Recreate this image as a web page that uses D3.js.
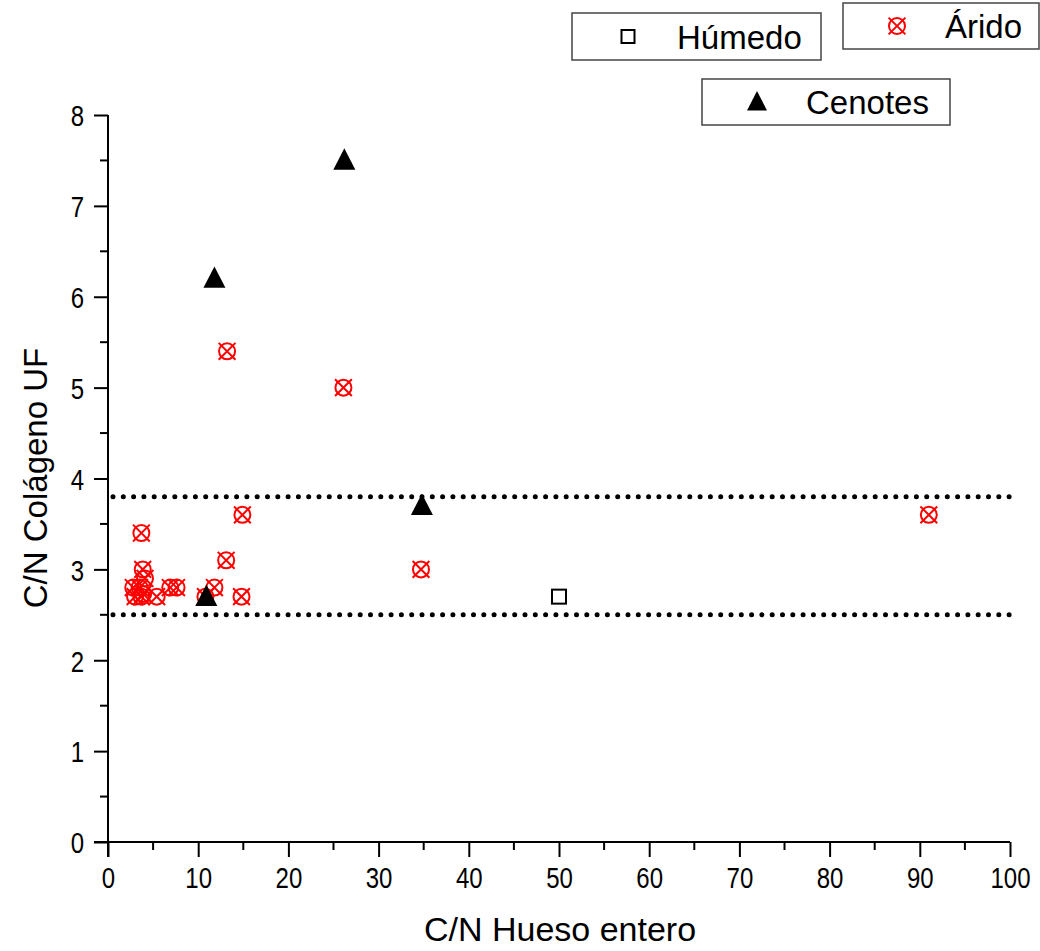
<!DOCTYPE html>
<html>
<head>
<meta charset="utf-8">
<script src="https://cdn.jsdelivr.net/npm/d3@7"></script>
<style>
  body { margin: 0; background: #fff; }
  text { font-family: "Liberation Sans", Arial, sans-serif; fill: #000; }
</style>
</head>
<body>
<script>
// datos
var humedoX = [50];
var humedoY = [2.7];

var aridoX = [13.2, 26.1, 34.7, 91.0, 14.9, 13.1, 14.8, 3.7, 3.85, 4.1, 2.8, 3.5, 3.9, 3.0, 3.7, 5.4, 6.9, 7.6, 11.8, 10.8];
var aridoY = [5.4, 5.0, 3.0, 3.6, 3.6, 3.1, 2.7, 3.4, 3.0, 2.9, 2.8, 2.8, 2.73, 2.7, 2.7, 2.7, 2.8, 2.8, 2.8, 2.7];

var cenotesX = [11.8, 26.2, 34.8, 10.9];
var cenotesY = [6.2, 7.5, 3.7, 2.7];

var limites = [3.8, 2.5];

var xTicks = [0, 10, 20, 30, 40, 50, 60, 70, 80, 90, 100];
var yTicks = [0, 1, 2, 3, 4, 5, 6, 7, 8];

var width = 1040, height = 951;
var estirar = 1.25; // las etiquetas de los ejes se ven estiradas en vertical

var svg = d3.select("body").append("svg")
    .attr("width", width)
    .attr("height", height);

// escalas
var x = d3.scaleLinear().domain([0, 100]).range([108, 1010]);
var y = d3.scaleLinear().domain([0, 8]).range([842, 115]);

// líneas punteadas
svg.selectAll("line.lim").data(limites).enter().append("line")
    .attr("class", "lim")
    .attr("x1", x(0) + 5).attr("x2", x(100))
    .attr("y1", d => y(d)).attr("y2", d => y(d))
    .attr("stroke", "#000")
    .attr("stroke-width", 5)
    .attr("stroke-linecap", "round")
    .attr("stroke-dasharray", "0,10.3");

// ejes
var xAxis = d3.axisBottom(x).tickValues(xTicks).tickSize(15);
var yAxis = d3.axisLeft(y).tickValues(yTicks).tickSize(14).tickPadding(10);

var gx = svg.append("g").attr("transform", "translate(0," + y(0) + ")").call(xAxis);
var gy = svg.append("g").attr("transform", "translate(" + x(0) + ",0)").call(yAxis);

[gx, gy].forEach(g => {
  g.select(".domain").remove();
  g.selectAll(".tick line").attr("stroke-width", 2);
  g.selectAll(".tick text")
      .attr("font-size", 24)
      .attr("font-family", "Liberation Sans, Arial, sans-serif");
});
gx.selectAll(".tick text")
    .attr("y", 46 / estirar).attr("dy", null)
    .attr("transform", "scale(1," + estirar + ")");
gy.selectAll(".tick text")
    .attr("dy", "0.36em")
    .attr("transform", "scale(1," + estirar + ")");

svg.append("line").attr("x1", x(0) - 14).attr("x2", x(100)).attr("y1", y(0)).attr("y2", y(0))
    .attr("stroke", "#000").attr("stroke-width", 2);
svg.append("line").attr("x1", x(0)).attr("x2", x(0)).attr("y1", y(0) + 15).attr("y2", y(8))
    .attr("stroke", "#000").attr("stroke-width", 2);

// marcas menores
var xMinor = d3.range(5, 100, 10);
var yMinor = d3.range(0.5, 8, 1);
svg.selectAll("line.xm").data(xMinor).enter().append("line")
    .attr("x1", d => x(d)).attr("x2", d => x(d))
    .attr("y1", y(0)).attr("y2", y(0) + 8)
    .attr("stroke", "#000").attr("stroke-width", 2);
svg.selectAll("line.ym").data(yMinor).enter().append("line")
    .attr("x1", x(0) - 8).attr("x2", x(0))
    .attr("y1", d => y(d)).attr("y2", d => y(d))
    .attr("stroke", "#000").attr("stroke-width", 2);

// títulos de ejes
svg.append("text")
    .attr("x", 560).attr("y", 941)
    .attr("text-anchor", "middle")
    .attr("font-size", 34)
    .text("C/N Hueso entero");
svg.append("text")
    .attr("transform", "translate(47,478) rotate(-90)")
    .attr("text-anchor", "middle")
    .attr("font-size", 33)
    .text("C/N Colágeno UF");

// símbolos
function arido(g, r) {
  g.append("circle").attr("r", r).attr("fill", "none").attr("stroke", "#f00").attr("stroke-width", 2);
  var k = r * 1.05;
  g.append("path").attr("d", "M" + (-k) + "," + (-k) + "L" + k + "," + k + "M" + k + "," + (-k) + "L" + (-k) + "," + k)
      .attr("stroke", "#f00").attr("stroke-width", 2);
}
function triangulo(g, s) {
  g.append("path")
      .attr("d", "M0," + (-s * 0.55) + "L" + (s / 2) + "," + (s * 0.42) + "L" + (-s / 2) + "," + (s * 0.42) + "Z")
      .attr("fill", "#000");
}
function cuadrado(g, s) {
  g.append("rect").attr("x", -s / 2).attr("y", -s / 2).attr("width", s).attr("height", s)
      .attr("fill", "#fff").attr("stroke", "#000").attr("stroke-width", 2);
}

var aridoData = aridoX.map((v, i) => ({x: v, y: aridoY[i]}));
svg.selectAll("g.arido").data(aridoData).enter().append("g")
    .attr("class", "arido")
    .attr("transform", d => "translate(" + x(d.x) + "," + y(d.y) + ")")
    .each(function() { arido(d3.select(this), 8); });

var humedoData = humedoX.map((v, i) => ({x: v, y: humedoY[i]}));
svg.selectAll("g.humedo").data(humedoData).enter().append("g")
    .attr("transform", d => "translate(" + x(d.x) + "," + y(d.y) + ")")
    .each(function() { cuadrado(d3.select(this), 14); });

var cenotesData = cenotesX.map((v, i) => ({x: v, y: cenotesY[i]}));
svg.selectAll("g.cenotes").data(cenotesData).enter().append("g")
    .attr("transform", d => "translate(" + x(d.x) + "," + y(d.y) + ")")
    .each(function() { triangulo(d3.select(this), 22); });

// leyendas
var leyendas = [
  {label: "Húmedo", bx: 572, by: 13, bw: 249, bh: 47, sx: 628, tx: 677, tipo: "h"},
  {label: "Árido", bx: 843, by: 3, bw: 196, bh: 46, sx: 897, tx: 945, tipo: "a"},
  {label: "Cenotes", bx: 702, by: 79, bw: 248, bh: 46, sx: 757, tx: 806, tipo: "c"}
];
leyendas.forEach(l => {
  var g = svg.append("g");
  g.append("rect").attr("x", l.bx).attr("y", l.by).attr("width", l.bw).attr("height", l.bh)
      .attr("fill", "#fff").attr("stroke", "#444").attr("stroke-width", 1.5);
  var s = g.append("g").attr("transform", "translate(" + l.sx + "," + (l.by + l.bh / 2) + ")");
  if (l.tipo === "h") cuadrado(s, 13);
  if (l.tipo === "a") arido(s, 8);
  if (l.tipo === "c") triangulo(s, 20);
  g.append("text").attr("x", l.tx).attr("y", l.by + l.bh / 2 + 12)
      .attr("font-size", 33).text(l.label);
});
</script>
</body>
</html>
